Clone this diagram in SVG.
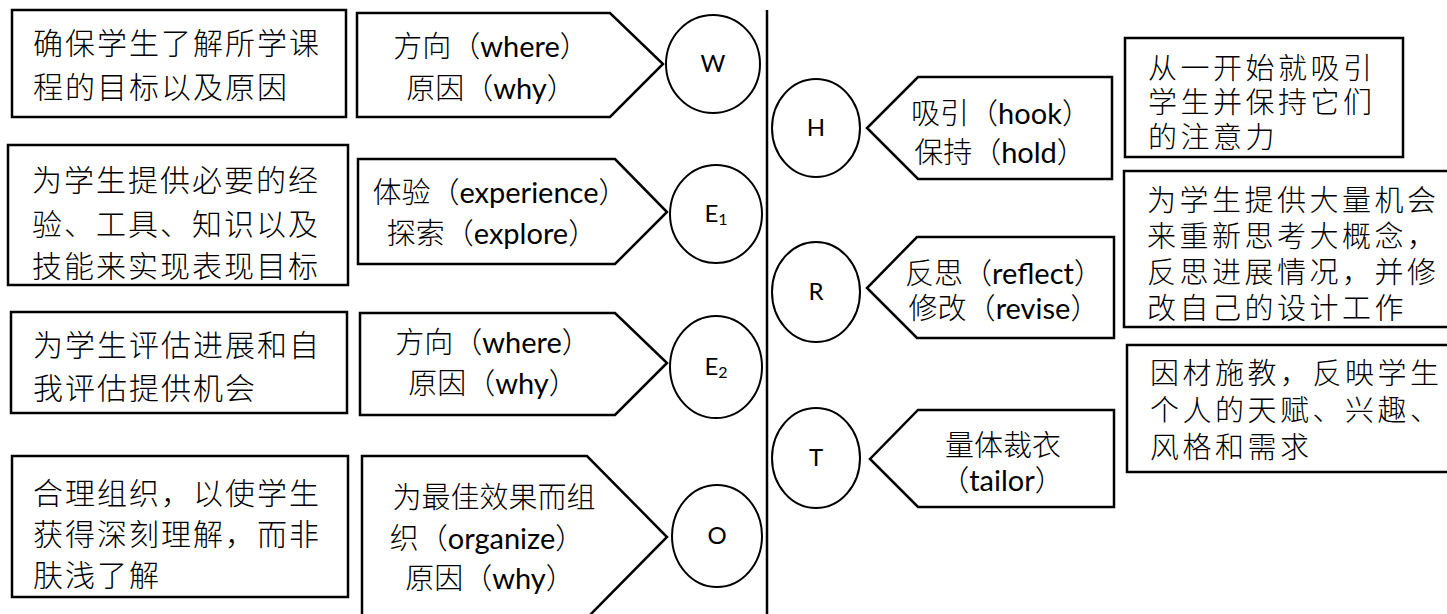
<svg xmlns="http://www.w3.org/2000/svg" width="1447" height="614" viewBox="0 0 1447 614">
<style>
  .box { fill: #fff; stroke: #000; stroke-width: 2.5; }
  .pent { fill: #fff; stroke: #000; stroke-width: 2.5; stroke-linejoin: miter; }
  .circ { fill: #fff; stroke: #000; stroke-width: 2; }
  .div { stroke: #000; stroke-width: 2.5; }
  text { fill: #000; font-family: Lato, "Noto Sans CJK SC", sans-serif; }
  .lt { font-size: 30px; letter-spacing: 2px; font-weight: 300; }
  .rt { font-size: 29px; letter-spacing: 3.5px; font-weight: 300; }
  .pt { font-size: 29px; text-anchor: middle; font-weight: 300; }
  .la { font-weight: 400; }
  .ct { font-size: 24px; text-anchor: middle; }
</style>
<rect width="1447" height="614" fill="#fff"/>

<g id="divider">
  <line class="div" x1="767" y1="10" x2="767" y2="614"/>
</g>

<!-- Left description boxes -->
<g id="desc-W">
  <rect class="box" x="12" y="10" width="334" height="107"/>
  <text class="lt"><tspan x="33" y="54">确保学生了解所学课</tspan><tspan x="33" y="98">程的目标以及原因</tspan></text>
</g>
<g id="desc-E1">
  <rect class="box" x="8" y="145" width="340" height="140"/>
  <text class="lt"><tspan x="32" y="191">为学生提供必要的经</tspan><tspan x="32" y="235">验、工具、知识以及</tspan><tspan x="32" y="277">技能来实现表现目标</tspan></text>
</g>
<g id="desc-E2">
  <rect class="box" x="11" y="312" width="336" height="101"/>
  <text class="lt"><tspan x="33" y="356">为学生评估进展和自</tspan><tspan x="33" y="399">我评估提供机会</tspan></text>
</g>
<g id="desc-O">
  <rect class="box" x="12" y="456" width="336" height="141"/>
  <text class="lt"><tspan x="33" y="504">合理组织，以使学生</tspan><tspan x="33" y="545">获得深刻理解，而非</tspan><tspan x="33" y="586">肤浅了解</tspan></text>
</g>

<!-- Left pentagons -->
<g id="label-W">
  <polygon class="pent" points="357,13 610,13 663,64 610,117 357,117"/>
  <text class="pt" x="491" y="57">方向（<tspan class="la">where</tspan>）</text>
  <text class="pt" x="491" y="99">原因（<tspan class="la">why</tspan>）</text>
</g>
<g id="label-E1">
  <polygon class="pent" points="358,159 615,159 667,212 615,264 358,264"/>
  <text class="pt" x="500" y="203">体验（<tspan class="la">experience</tspan>）</text>
  <text class="pt" x="492" y="244">探索（<tspan class="la">explore</tspan>）</text>
</g>
<g id="label-E2">
  <polygon class="pent" points="360,313 615,313 667,363 615,415 360,415"/>
  <text class="pt" x="493" y="353">方向（<tspan class="la">where</tspan>）</text>
  <text class="pt" x="493" y="394">原因（<tspan class="la">why</tspan>）</text>
</g>
<g id="label-O">
  <polygon class="pent" points="362,456 587,456 667,537 587,618 362,618"/>
  <text class="pt" x="494" y="508">为最佳效果而组</text>
  <text class="pt" x="487" y="549">织（<tspan class="la">organize</tspan>）</text>
  <text class="pt" x="490" y="589">原因（<tspan class="la">why</tspan>）</text>
</g>

<!-- Left circles -->
<g id="node-W">
  <ellipse class="circ" cx="713" cy="64" rx="47" ry="49"/>
  <text class="ct" x="713" y="72">W</text>
</g>
<g id="node-E1">
  <ellipse class="circ" cx="716" cy="214" rx="46" ry="49"/>
  <text class="ct" x="716" y="222">E<tspan font-size="16" dy="3">1</tspan></text>
</g>
<g id="node-E2">
  <ellipse class="circ" cx="716" cy="367" rx="46" ry="51"/>
  <text class="ct" x="716" y="375">E<tspan font-size="16" dy="3">2</tspan></text>
</g>
<g id="node-O">
  <ellipse class="circ" cx="717" cy="536" rx="45" ry="51"/>
  <text class="ct" x="717" y="544">O</text>
</g>

<!-- Right circles -->
<g id="node-H">
  <ellipse class="circ" cx="816" cy="128" rx="44" ry="49"/>
  <text class="ct" x="816" y="136">H</text>
</g>
<g id="node-R">
  <ellipse class="circ" cx="816" cy="292" rx="44" ry="50"/>
  <text class="ct" x="816" y="300">R</text>
</g>
<g id="node-T">
  <ellipse class="circ" cx="816" cy="458" rx="44" ry="50"/>
  <text class="ct" x="816" y="466">T</text>
</g>

<!-- Right pentagons -->
<g id="label-H">
  <polygon class="pent" points="918,77 1112,77 1112,179 918,179 867,128"/>
  <text class="pt" x="1001" y="124">吸引（<tspan class="la">hook</tspan>）</text>
  <text class="pt" x="1000" y="163">保持（<tspan class="la">hold</tspan>）</text>
</g>
<g id="label-R">
  <polygon class="pent" points="917,237 1114,237 1114,338 917,338 867,288"/>
  <text class="pt" x="1004" y="284">反思（<tspan class="la">reflect</tspan>）</text>
  <text class="pt" x="1004" y="319">修改（<tspan class="la">revise</tspan>）</text>
</g>
<g id="label-T">
  <polygon class="pent" points="918,410 1114,410 1114,507 918,507 870,459"/>
  <text class="pt" x="1003" y="456">量体裁衣</text>
  <text class="pt" x="1002" y="491">（<tspan class="la">tailor</tspan>）</text>
</g>

<!-- Right description boxes -->
<g id="desc-H">
  <rect class="box" x="1125" y="38" width="278" height="119"/>
  <text class="rt"><tspan x="1148" y="79">从一开始就吸引</tspan><tspan x="1148" y="113">学生并保持它们</tspan><tspan x="1148" y="148">的注意力</tspan></text>
</g>
<g id="desc-R">
  <rect class="box" x="1124" y="171" width="325" height="156"/>
  <text class="rt"><tspan x="1147" y="211">为学生提供大量机会</tspan><tspan x="1147" y="247">来重新思考大概念，</tspan><tspan x="1147" y="283">反思进展情况，并修</tspan><tspan x="1147" y="319">改自己的设计工作</tspan></text>
</g>
<g id="desc-T">
  <rect class="box" x="1127" y="345" width="322" height="127"/>
  <text class="rt"><tspan x="1150" y="384">因材施教，反映学生</tspan><tspan x="1150" y="421">个人的天赋、兴趣、</tspan><tspan x="1150" y="458">风格和需求</tspan></text>
</g>
</svg>
